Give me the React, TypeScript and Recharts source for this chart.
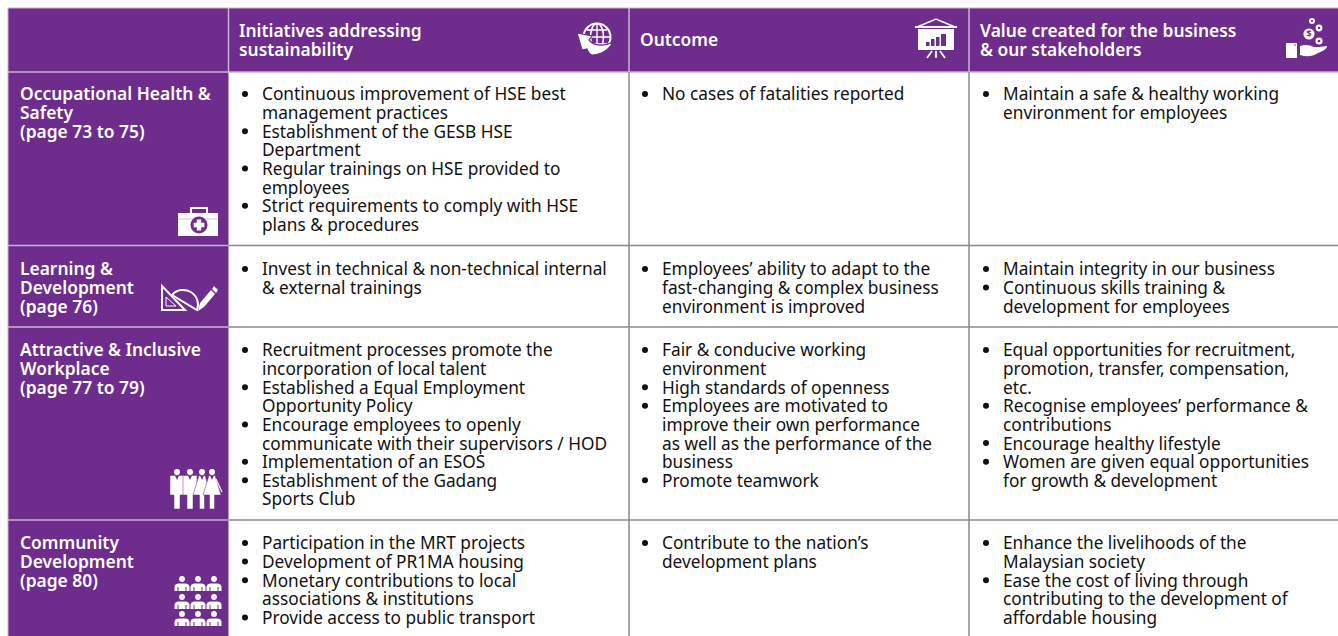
import React from "react";
import { ScatterChart, Scatter, XAxis, YAxis, ReferenceArea, ReferenceLine } from "recharts";

const PURPLE = "#6e2c8d";
const RULE_LIGHT = "#c8b4d4";
const RULE_GREY = "#8a8a8a";
const FONT = "'Noto Sans', sans-serif";
const BODY_SIZE = 17.25;
const HEAD_SIZE = 17.4;
const LINE_STEP = 18.62;

// table grid, in page pixels
const colEdges = [8, 228.5, 629, 969, 1338];
const rowEdges = [8, 72, 245.5, 327, 520, 636];
const firstLineY = [94, 269, 350, 543];
const bodyTextX = [262, 662, 1003];
const headTextX = [239, 640, 980];

const headers = [
  { lines: ["Initiatives addressing", "sustainability"], y: 31 },
  { lines: ["Outcome"], y: 40 },
  { lines: ["Value created for the business", "& our stakeholders"], y: 31 },
];

const topics = [
  ["Occupational Health &", "Safety", "(page 73 to 75)"],
  ["Learning &", "Development", "(page 76)"],
  ["Attractive & Inclusive", "Workplace", "(page 77 to 79)"],
  ["Community", "Development", "(page 80)"],
];

const initiatives = [
  [
    ["Continuous improvement of HSE best", "management practices"],
    ["Establishment of the GESB HSE", "Department"],
    ["Regular trainings on HSE provided to", "employees"],
    ["Strict requirements to comply with HSE", "plans & procedures"],
  ],
  [["Invest in technical & non-technical internal", "& external trainings"]],
  [
    ["Recruitment processes promote the", "incorporation of local talent"],
    ["Established a Equal Employment", "Opportunity Policy"],
    ["Encourage employees to openly", "communicate with their supervisors / HOD"],
    ["Implementation of an ESOS"],
    ["Establishment of the Gadang", "Sports Club"],
  ],
  [
    ["Participation in the MRT projects"],
    ["Development of PR1MA housing"],
    ["Monetary contributions to local", "associations & institutions"],
    ["Provide access to public transport"],
  ],
];

const outcomes = [
  [["No cases of fatalities reported"]],
  [["Employees’ ability to adapt to the", "fast-changing & complex business", "environment is improved"]],
  [
    ["Fair & conducive working", "environment"],
    ["High standards of openness"],
    ["Employees are motivated to", "improve their own performance", "as well as the performance of the", "business"],
    ["Promote teamwork"],
  ],
  [["Contribute to the nation’s", "development plans"]],
];

const values = [
  [["Maintain a safe & healthy working", "environment for employees"]],
  [["Maintain integrity in our business"], ["Continuous skills training &", "development for employees"]],
  [
    ["Equal opportunities for recruitment,", "promotion, transfer, compensation,", "etc."],
    ["Recognise employees’ performance &", "contributions"],
    ["Encourage healthy lifestyle"],
    ["Women are given equal opportunities", "for growth & development"],
  ],
  [
    ["Enhance the livelihoods of the", "Malaysian society"],
    ["Ease the cost of living through", "contributing to the development of", "affordable housing"],
  ],
];

const iconSpots = [
  { name: "globe", x: 595, y: 39 },
  { name: "board", x: 936, y: 39 },
  { name: "hand", x: 1306, y: 39 },
  { name: "kit", x: 198, y: 222 },
  { name: "tools", x: 190, y: 298 },
  { name: "staff", x: 196, y: 489 },
  { name: "crowd", x: 198, y: 602 },
];

const bodyLines: { x: number; y: number; text: string }[] = [];
const bullets: { x: number; y: number }[] = [];
[initiatives, outcomes, values].forEach((column, c) => {
  column.forEach((cell, r) => {
    let n = 0;
    cell.forEach((item) => {
      bullets.push({ x: bodyTextX[c] - 17, y: firstLineY[r] + n * LINE_STEP });
      item.forEach((text) => {
        bodyLines.push({ x: bodyTextX[c], y: firstLineY[r] + n * LINE_STEP, text });
        n++;
      });
    });
  });
});

const headLines: { x: number; y: number; text: string }[] = [];
headers.forEach((h, c) =>
  h.lines.forEach((text, i) => headLines.push({ x: headTextX[c], y: h.y + i * LINE_STEP, text }))
);
topics.forEach((lines, r) =>
  lines.forEach((text, i) => headLines.push({ x: 20, y: firstLineY[r] + i * LINE_STEP, text }))
);

const Person = ({ x, y }: { x: number; y: number }) => (
  <g transform={`translate(${x},${y})`}>
    <circle cx={0} cy={0} r={2.9} fill="#fff" />
    <path d="M-7.5 12V8C-7.5 5.5 -5.5 4.5 -3 4.5H3C5.5 4.5 7.5 5.5 7.5 8V12Z" fill="#fff" />
    <path d="M-4 8V12M4 8V12" stroke={PURPLE} strokeWidth={1} />
  </g>
);

const icons: Record<string, React.ReactNode> = {
  globe: (
    <g>
      <circle cx={2} cy={-2} r={13.5} fill="none" stroke="#fff" strokeWidth={2} />
      <ellipse cx={2} cy={-2} rx={6.5} ry={13.5} fill="none" stroke="#fff" strokeWidth={1.6} />
      <path d="M-11 -2H15M2 -15V11M-8 -9H12M-8 5H12" stroke="#fff" strokeWidth={1.4} />
      <path
        d="M-18 -6L-3 -3L-6 1C-1 7 9 8 18 3C14 11 6 16 -3 16C-6 15 -7 13 -8 10L-13 11Z"
        fill="#fff"
        stroke={PURPLE}
        strokeWidth={1.2}
      />
    </g>
  ),
  board: (
    <g>
      <path d="M-19 -12L0 -20L19 -12" fill="none" stroke="#fff" strokeWidth={1.6} />
      <path d="M-21 -13H21V-11H-21z" fill="#fff" />
      <path d="M-18 -10H18V11H-18z" fill="#fff" />
      <path d="M-10 3h3.5v4h-3.5zM-5 0h3.5v7h-3.5zM0 -2h3.5v9h-3.5zM5 -5h5v12h-5z" fill={PURPLE} />
      <path d="M0 12V19M-4 12L-9 19M4 12L9 19" stroke="#fff" strokeWidth={1.8} />
    </g>
  ),
  hand: (
    <g>
      <path d="M-20 4H-9V19H-20z" fill="#fff" />
      <circle cx={-11} cy={6} r={0.8} fill={PURPLE} />
      <path d="M-6 7C-1 5 4 6 8 8H13L21 7C21 10 17 12 12 14C6 18 0 18 -6 16Z" fill="#fff" />
      <circle cx={3} cy={-5} r={5.6} fill="#fff" />
      <text x={3} y={-1.8} fontSize={9} fontWeight={700} textAnchor="middle" fontFamily={FONT} fill={PURPLE}>$</text>
      <circle cx={13} cy={-11} r={3.4} fill="#fff" />
      <circle cx={13} cy={-11} r={1.2} fill={PURPLE} />
      <circle cx={13} cy={2} r={3.6} fill="#fff" />
      <circle cx={13} cy={2} r={1.3} fill={PURPLE} />
      <circle cx={6} cy={-18} r={3} fill="#fff" />
      <circle cx={6} cy={-18} r={1.1} fill={PURPLE} />
    </g>
  ),
  kit: (
    <g>
      <path d="M-7 -9V-14H9V-9" fill="none" stroke="#fff" strokeWidth={2} />
      <path d="M-20 -9H20V14H-20z" fill="#fff" />
      <path d="M-20 -3H20" stroke={RULE_LIGHT} strokeWidth={0.8} />
      <circle cx={1} cy={3} r={8.5} fill={PURPLE} />
      <path d="M-1.2 -2.4h4.4v3.2h3.2v4.4h-3.2v3.2h-4.4v-3.2h-3.2v-4.4h3.2z" fill="#fff" />
    </g>
  ),
  tools: (
    <g>
      <path d="M-28 -12V12H-5Z" fill="none" stroke="#fff" strokeWidth={2} />
      <path d="M-24 -1V8H-14Z" fill="none" stroke="#fff" strokeWidth={1} />
      <path d="M-18 -3A14.8 14.8 0 0 1 7 12Z" fill="none" stroke="#fff" strokeWidth={2} />
      <path d="M8 13L10 5L21 -8L25 -4L14 9Z" fill="#fff" />
      <path d="M22 -9L24 -12L28 -8L26 -5Z" fill="#fff" />
    </g>
  ),
  staff: (
    <g>
      {[-19, -6, 6, 16].map((dx, i) => (
        <g key={i} transform={`translate(${dx},0)`}>
          <circle cx={0} cy={-17} r={3} fill="#fff" />
          <path
            d={i < 2 ? "M-7 -13.5H7V6H3V20H-3V6H-7Z" : "M-3 -13.5H3L9 6H2.5V20H-2.5V6H-9Z"}
            fill="#fff"
            stroke={PURPLE}
            strokeWidth={0.5}
          />
          <path d="M-2 -13.5L0 -9L2 -13.5" fill={PURPLE} />
        </g>
      ))}
      <path d="M20 -10L26 3" stroke="#fff" strokeWidth={1.2} />
    </g>
  ),
  crowd: (
    <g>
      {[-23, -5, 12].map((dy) =>
        [-16, 0, 16].map((dx) => <Person key={`${dx}${dy}`} x={dx} y={dy} />)
      )}
    </g>
  ),
};

const LineText = (color: string, size: number, weight: number) => (props: any) => (
  <text
    x={props.cx}
    y={props.cy + 6.4}
    fill={color}
    fontFamily={FONT}
    fontSize={size}
    fontWeight={weight}
  >
    {props.payload.text}
  </text>
);

const Bullet = (props: any) => <circle cx={props.cx} cy={props.cy} r={3} fill="#111" />;
const Icon = (props: any) => (
  <g transform={`translate(${props.cx},${props.cy})`}>{icons[props.payload.name]}</g>
);

export default function App() {
  return (
    <div style={{ position: "absolute", left: 0, top: 0, width: 1338, height: 636, background: "#fff" }}>
      <ScatterChart width={1338} height={636} margin={{ top: 0, right: 0, bottom: 0, left: 0 }}>
        <XAxis type="number" dataKey="x" domain={[0, 1338]} hide allowDataOverflow />
        <YAxis type="number" dataKey="y" domain={[0, 636]} reversed hide allowDataOverflow />
        <ReferenceArea x1={colEdges[0]} x2={colEdges[4]} y1={rowEdges[0]} y2={rowEdges[1]} fill={PURPLE} fillOpacity={1} stroke="none" />
        <ReferenceArea x1={colEdges[0]} x2={colEdges[1]} y1={rowEdges[1]} y2={rowEdges[5]} fill={PURPLE} fillOpacity={1} stroke="none" />
        <ReferenceLine segment={[{ x: colEdges[0], y: rowEdges[0] }, { x: colEdges[4], y: rowEdges[0] }]} stroke={RULE_LIGHT} strokeWidth={1} />
        <ReferenceLine segment={[{ x: colEdges[0], y: rowEdges[0] }, { x: colEdges[0], y: rowEdges[5] }]} stroke={RULE_LIGHT} strokeWidth={1} />
        <ReferenceLine segment={[{ x: colEdges[0], y: rowEdges[1] }, { x: colEdges[4], y: rowEdges[1] }]} stroke={RULE_LIGHT} strokeWidth={1.5} />
        {rowEdges.slice(2, 5).map((y) => (
          <React.Fragment key={y}>
            <ReferenceLine segment={[{ x: colEdges[0], y }, { x: colEdges[1], y }]} stroke={RULE_LIGHT} strokeWidth={1.5} />
            <ReferenceLine segment={[{ x: colEdges[1], y }, { x: colEdges[4], y }]} stroke={RULE_GREY} strokeWidth={1.5} />
          </React.Fragment>
        ))}
        {colEdges.slice(1, 4).map((x) => (
          <React.Fragment key={x}>
            <ReferenceLine segment={[{ x, y: rowEdges[0] }, { x, y: rowEdges[1] }]} stroke={RULE_LIGHT} strokeWidth={1.5} />
            {x > colEdges[1] && (
              <ReferenceLine segment={[{ x, y: rowEdges[1] }, { x, y: rowEdges[5] }]} stroke={RULE_GREY} strokeWidth={1.5} />
            )}
          </React.Fragment>
        ))}
        <Scatter data={bullets} shape={Bullet} isAnimationActive={false} />
        <Scatter data={bodyLines} shape={LineText("#111", BODY_SIZE, 400)} isAnimationActive={false} />
        <Scatter data={headLines} shape={LineText("#fff", HEAD_SIZE, 600)} isAnimationActive={false} />
        <Scatter data={iconSpots} shape={Icon} isAnimationActive={false} />
      </ScatterChart>
    </div>
  );
}
